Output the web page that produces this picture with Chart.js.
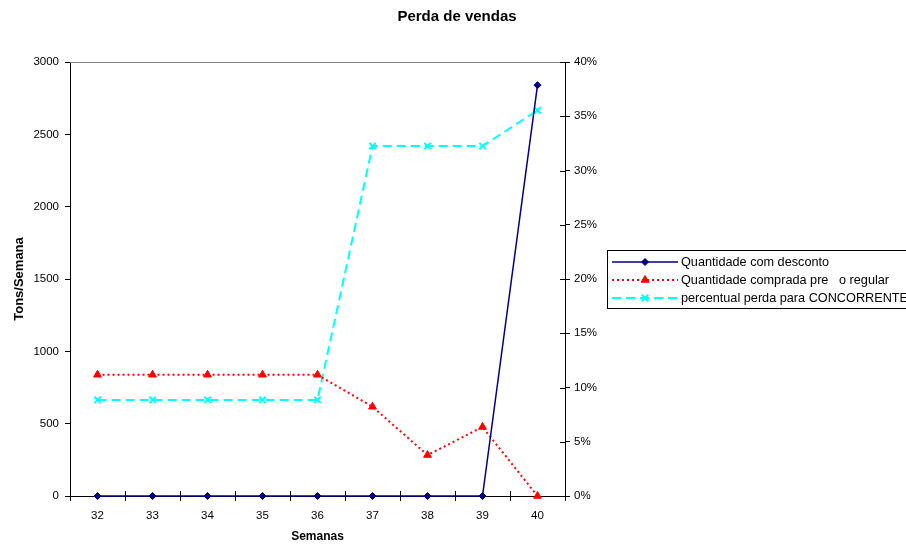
<!DOCTYPE html>
<html>
<head>
<meta charset="utf-8">
<script src="https://cdn.jsdelivr.net/npm/chart.js@4/dist/chart.umd.min.js"></script>
<style>
  html, body { margin: 0; padding: 0; background: #fff; }
  #wrap { width: 906px; height: 544px; }
</style>
</head>
<body>
<div id="wrap"><canvas id="c" width="906" height="544"></canvas></div>
<script>
// Weeks on the horizontal axis
const semanas = ['32', '33', '34', '35', '36', '37', '38', '39', '40'];
// Tons per week sold at discount
const quantidadeDesconto = [0, 0, 0, 0, 0, 0, 0, 0, 2840];
// Tons per week bought at regular price
const quantidadeRegular = [838, 838, 838, 838, 838, 617, 283, 477, 0];
// Share of sales lost to the competitor (%)
const percentualPerda = [8.85, 8.85, 8.85, 8.85, 8.85, 32.25, 32.25, 32.25, 35.55];

const legendLabels = [
  'Quantidade com desconto',
  'Quantidade comprada pre   o regular',
  'percentual perda para CONCORRENTE'
];

const FONT = 'Arial, "Liberation Sans", sans-serif';

// Extra drawing: inner halves of tick marks, plot top border, right title, boxed legend
const extras = {
  id: 'extras',
  beforeDatasetsDraw(chart) {
    const ctx = chart.ctx;
    const a = chart.chartArea;
    const x = chart.scales.x, y1 = chart.scales.y1;
    ctx.save();
    // top border of the plot area
    ctx.strokeStyle = '#808080';
    ctx.lineWidth = 1;
    ctx.beginPath();
    ctx.moveTo(a.left, a.top + 0.5);
    ctx.lineTo(a.right, a.top + 0.5);
    ctx.stroke();
    // inward tick marks
    ctx.strokeStyle = '#000';
    ctx.beginPath();
    for (let i = 0; i <= semanas.length; i++) {
      const px = Math.round(x.getPixelForValue(i - 0.5)) + 0.5;
      ctx.moveTo(px, a.bottom);
      ctx.lineTo(px, a.bottom - 5);
    }
    y1.ticks.forEach((t, i) => {
      const py = Math.round(y1.getPixelForTick(i)) + 0.5;
      ctx.moveTo(a.right, py);
      ctx.lineTo(a.right - 5, py);
    });
    ctx.stroke();
    ctx.restore();
  },
  afterDraw(chart) {
    const ctx = chart.ctx;
    const a = chart.chartArea;
    ctx.save();
    // right axis title, reading upward
    ctx.fillStyle = '#000';
    ctx.font = 'bold 13px ' + FONT;
    ctx.textAlign = 'center';
    ctx.textBaseline = 'middle';
    ctx.translate(614, (a.top + a.bottom) / 2);
    ctx.rotate(-Math.PI / 2);
    ctx.fillText('% Perda', 0, 0);
    ctx.restore();

    // legend box
    ctx.save();
    const lx = 607, ly = 250, lw = 310, lh = 58;
    ctx.fillStyle = '#fff';
    ctx.fillRect(lx, ly, lw, lh);
    ctx.strokeStyle = '#000';
    ctx.lineWidth = 1;
    ctx.strokeRect(lx + 0.5, ly + 0.5, lw, lh);
    ctx.font = '12.7px ' + FONT;
    ctx.textAlign = 'left';
    ctx.textBaseline = 'middle';
    chart.data.datasets.forEach((ds, i) => {
      const yy = ly + 12 + i * 18;
      ctx.save();
      ctx.strokeStyle = ds.borderColor;
      ctx.lineWidth = ds.borderWidth;
      ctx.setLineDash(ds.borderDash || []);
      ctx.beginPath();
      ctx.moveTo(612, yy);
      ctx.lineTo(678, yy);
      ctx.stroke();
      ctx.restore();
      ctx.save();
      ctx.fillStyle = ds.pointBackgroundColor;
      ctx.strokeStyle = ds.pointBorderColor;
      ctx.lineWidth = ds.pointBorderWidth || 1;
      Chart.helpers.drawPoint(ctx, {
        pointStyle: ds.pointStyle,
        radius: ds.pointRadius,
        borderWidth: ds.pointBorderWidth || 1,
        rotation: 0
      }, 645, yy);
      ctx.restore();
      ctx.fillStyle = '#000';
      ctx.fillText(legendLabels[i], 681, yy);
    });
    ctx.restore();
  }
};

new Chart(document.getElementById('c'), {
  type: 'line',
  data: {
    labels: semanas,
    datasets: [
      {
        label: legendLabels[0],
        data: quantidadeDesconto,
        yAxisID: 'y',
        borderColor: '#000080',
        backgroundColor: '#000080',
        borderWidth: 1.5,
        pointStyle: 'rectRot',
        pointRadius: 3.5,
        pointBackgroundColor: '#000080',
        pointBorderColor: '#000080',
        pointBorderWidth: 1,
        tension: 0,
        clip: false
      },
      {
        label: legendLabels[1],
        data: quantidadeRegular,
        yAxisID: 'y',
        borderColor: '#ff0000',
        backgroundColor: '#ff0000',
        borderWidth: 2,
        borderDash: [2, 3],
        pointStyle: 'triangle',
        pointRadius: 4.5,
        pointBackgroundColor: '#ff0000',
        pointBorderColor: '#ff0000',
        pointBorderWidth: 1,
        tension: 0,
        clip: false
      },
      {
        label: legendLabels[2],
        data: percentualPerda,
        yAxisID: 'y1',
        borderColor: '#00ffff',
        backgroundColor: '#00ffff',
        borderWidth: 2,
        borderDash: [9, 5],
        pointStyle: 'crossRot',
        pointRadius: 4.5,
        pointBackgroundColor: '#00ffff',
        pointBorderColor: '#00ffff',
        pointBorderWidth: 2,
        tension: 0,
        clip: false
      }
    ]
  },
  options: {
    responsive: false,
    animation: false,
    events: [],
    layout: { padding: { left: 8, right: 0, top: 0, bottom: 0 } },
    plugins: {
      legend: { display: false },
      tooltip: { enabled: false },
      title: {
        display: true,
        text: 'Perda de vendas',
        color: '#000',
        font: { family: FONT, size: 15, weight: 'bold' },
        padding: { top: 8, bottom: 36 }
      }
    },
    scales: {
      x: {
        type: 'category',
        offset: true,
        grid: { display: true, drawOnChartArea: false, offset: true, tickLength: 5, color: '#000', tickColor: '#000' },
        border: { display: true, color: '#000', width: 1 },
        ticks: { color: '#000', font: { family: FONT, size: 11.5 }, padding: 8, maxRotation: 0 },
        title: { display: true, text: 'Semanas', color: '#000', font: { family: FONT, size: 12, weight: 'bold' }, padding: { top: 0, bottom: 0 } },
        afterFit: s => { s.height = 48; }
      },
      y: {
        position: 'left',
        min: 0, max: 3000,
        grid: { display: true, drawOnChartArea: false, tickLength: 5, color: '#000', tickColor: '#000' },
        border: { display: true, color: '#000', width: 1 },
        ticks: { stepSize: 500, color: '#000', font: { family: FONT, size: 11.5 }, padding: 6, callback: v => String(v) },
        title: { display: true, text: 'Tons/Semana', color: '#000', font: { family: FONT, size: 13, weight: 'bold' } },
        afterFit: s => { s.width = 62; }
      },
      y1: {
        position: 'right',
        min: 0, max: 40,
        grid: { display: true, drawOnChartArea: false, tickLength: 5, color: '#000', tickColor: '#000' },
        border: { display: true, color: '#000', width: 1 },
        ticks: { stepSize: 5, color: '#000', font: { family: FONT, size: 11.5 }, padding: 4, callback: v => v + '%' },
        afterFit: s => { s.width = 341; }
      }
    }
  },
  plugins: [extras]
});
</script>
</body>
</html>
